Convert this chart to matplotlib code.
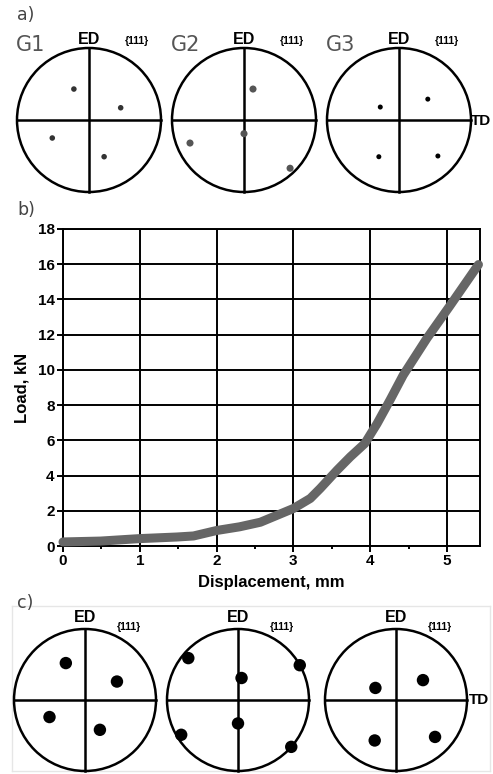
import numpy as np
import matplotlib
matplotlib.use("Agg")
import matplotlib.pyplot as plt
from matplotlib.patches import Circle

plt.rcParams["font.family"] = ["Liberation Sans", "DejaVu Sans"]
plt.rcParams["font.weight"] = "bold"

W, H = 493, 774
DPI = 100

# ---- data: load-displacement curve ----
disp = [0.0, 0.49, 1.0, 1.48, 1.7, 2.0, 2.3, 2.57, 3.0, 3.22, 3.35, 3.57, 3.74, 3.93,
        4.09, 4.26, 4.43, 4.74, 5.04, 5.41]
load = [0.23, 0.28, 0.42, 0.51, 0.57, 0.88, 1.09, 1.35, 2.13, 2.70, 3.27, 4.31, 5.06, 5.82,
        6.95, 8.3, 9.7, 11.8, 13.65, 15.98]
x_ticks = [0, 1, 2, 3, 4, 5]
y_ticks = [0, 2, 4, 6, 8, 10, 12, 14, 16, 18]

# ---- data: {111} pole figure poles (normalised coordinates) ----
a_labels = ["G1", "G2", "G3"]
a_poles_x = [[-0.21, 0.44, -0.51, 0.21],
             [0.125, 0.0, -0.75, 0.64],
             [-0.26, 0.40, -0.28, 0.54]]
a_poles_y = [[0.43, 0.17, -0.25, -0.51],
             [0.43, -0.19, -0.32, -0.67],
             [0.18, 0.29, -0.51, -0.50]]
c_poles_x = [[-0.27, 0.45, -0.50, 0.21],
             [-0.70, 0.05, 0.0, -0.80, 0.75, 0.87],
             [-0.29, 0.38, -0.30, 0.55]]
c_poles_y = [[0.52, 0.26, -0.24, -0.42],
             [0.59, 0.31, -0.33, -0.49, -0.66, 0.49],
             [0.17, 0.28, -0.57, -0.52]]

fig = plt.figure(figsize=(W / DPI, H / DPI), dpi=DPI)
fig.patch.set_facecolor("white")


def px_axes(left, top, width, height):
    return fig.add_axes([left / W, 1 - (top + height) / H, width / W, height / H])


def pole_figure(cx, cy, r, xs, ys, size, color):
    pad = 1.08
    ax = px_axes(cx - r * pad, cy - r * pad, 2 * r * pad, 2 * r * pad)
    ax.set_xlim(-pad, pad)
    ax.set_ylim(-pad, pad)
    ax.set_aspect("equal")
    ax.axis("off")
    ax.add_patch(Circle((0, 0), 1.0, fill=False, lw=1.8, ec="black"))
    ax.plot([-1, 1], [0, 0], color="black", lw=1.8)
    ax.plot([0, 0], [-1, 1], color="black", lw=1.8)
    ax.scatter(xs, ys, s=size, color=color, edgecolors="none", zorder=3)
    return ax


# ---- row a) ----
fig.text(17 / W, 1 - 15 / H, "a)", fontsize=12.5, color="#444444", va="center", ha="left",
         family="DejaVu Sans", fontweight="normal")
a_centers = [(89, 120), (244, 120), (399, 120)]
a_sizes = [16, 26, 13]
a_colors = ["#333333", "#555555", "#000000"]
for i, (cx, cy) in enumerate(a_centers):
    pole_figure(cx, cy, 72, a_poles_x[i], a_poles_y[i], a_sizes[i], a_colors[i])
    fig.text((cx - 58) / W, 1 - 45 / H, a_labels[i], fontsize=15, color="#555555",
             va="center", ha="center", family="DejaVu Sans", fontweight="normal")
    fig.text(cx / W, 1 - 40 / H, "ED", fontsize=11.5, fontweight="bold",
             va="center", ha="center")
    fig.text((cx + 48) / W, 1 - 41 / H, "{111}", fontsize=7.5, fontweight="bold",
             va="center", ha="center")
fig.text(471 / W, 1 - 121 / H, "TD", fontsize=11, fontweight="bold",
         va="center", ha="left")

# ---- row b) ----
fig.text(17 / W, 1 - 210 / H, "b)", fontsize=12.5, color="#444444", va="center", ha="left",
         family="DejaVu Sans", fontweight="normal")
ax = px_axes(63, 229, 417, 317)
ax.plot(disp, load, color="#666666", lw=6.5, solid_capstyle="round",
        solid_joinstyle="round", zorder=3, clip_on=False)
ax.set_xlim(0, 5.43)
ax.set_ylim(0, 18)
ax.set_xticks(x_ticks)
ax.set_yticks(y_ticks)
ax.set_xticks([0.5, 1.5, 2.5, 3.5, 4.5], minor=True)
ax.grid(True, which="major", color="black", lw=1.4)
ax.set_axisbelow(True)
for s in ax.spines.values():
    s.set_linewidth(1.4)
ax.tick_params(which="major", direction="out", length=4, width=1.4, pad=2,
               labelsize=11)
ax.tick_params(which="minor", axis="x", direction="out", length=2.5, width=1.4)
ax.set_xlabel("Displacement, mm", fontsize=12, fontweight="bold", labelpad=5)
ax.set_ylabel("Load, kN", fontsize=12, fontweight="bold", labelpad=6)

# ---- row c) ----
fig.text(17 / W, 1 - 603 / H, "c)", fontsize=12.5, color="#444444", va="center", ha="left",
         family="DejaVu Sans", fontweight="normal")
frame = px_axes(12, 606, 478, 165)
frame.set_xticks([])
frame.set_yticks([])
for s in frame.spines.values():
    s.set_color("#e6e6e6")
    s.set_linewidth(1.0)
frame.patch.set_alpha(0)
c_centers = [(85, 700), (238, 700), (396, 700)]
for i, (cx, cy) in enumerate(c_centers):
    pole_figure(cx, cy, 71, c_poles_x[i], c_poles_y[i], 80, "black")
    fig.text(cx / W, 1 - 617 / H, "ED", fontsize=11.5, fontweight="bold",
             va="center", ha="center")
    fig.text((cx + 44) / W, 1 - 627 / H, "{111}", fontsize=7.5, fontweight="bold",
             va="center", ha="center")
fig.text(469 / W, 1 - 700 / H, "TD", fontsize=11, fontweight="bold",
         va="center", ha="left")

fig.savefig("out.png", dpi=DPI)
